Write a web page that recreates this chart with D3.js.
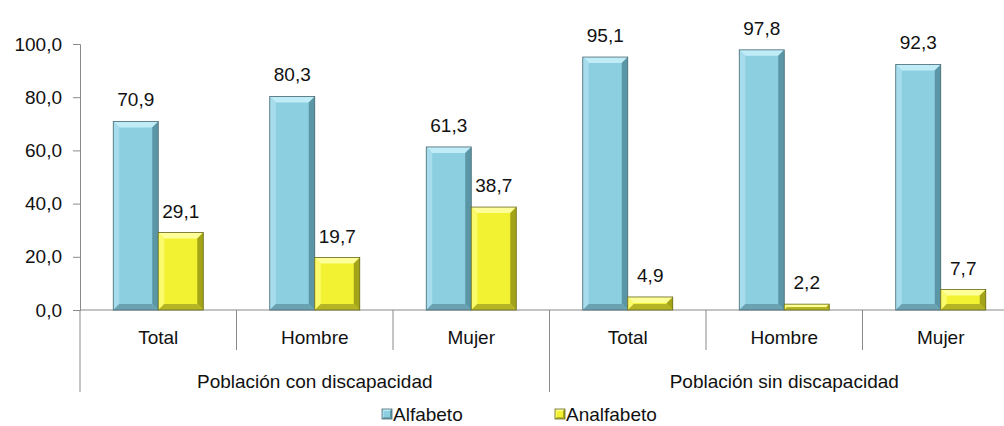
<!DOCTYPE html>
<html><head><meta charset="utf-8">
<script src="https://cdn.jsdelivr.net/npm/d3@7"></script>
<style>body{margin:0;background:#fff}svg{display:block}text{font-family:"Liberation Sans",Arial,sans-serif;fill:#111}</style>
</head><body><svg id="c" width="1004" height="426"></svg>
<script>
const groups = ["Población con discapacidad","Población sin discapacidad"];
const categories = ["Total","Hombre","Mujer","Total","Hombre","Mujer"];
const seriesNames = ["Alfabeto","Analfabeto"];
const alfabeto = [70.9,80.3,61.3,95.1,97.8,92.3];
const analfabeto = [29.1,19.7,38.7,4.9,2.2,7.7];
const yTicks = [0,20,40,60,80,100];

const FS = 19;
const svg = d3.select("#c");
const L = 80, R = 1019, T = 44, B = 310;
const x = d3.scaleBand().domain(d3.range(categories.length)).range([L,R]).paddingInner(0).paddingOuter(0);
const y = d3.scaleLinear().domain([0,100]).range([B,T]);
const fmt = v => d3.format(".1f")(v).replace(".",",");
const axisCol = "#8a8a8a";

// y axis
const ya = svg.append("g").attr("transform",`translate(${L},0)`)
  .call(d3.axisLeft(y).tickValues(yTicks).tickSize(7).tickPadding(11).tickFormat(fmt));
ya.select(".domain").attr("stroke",axisCol);
ya.selectAll(".tick line").attr("stroke",axisCol);
ya.selectAll(".tick text").attr("font-size",FS).attr("fill","#111").attr("font-family",'"Liberation Sans",Arial,sans-serif');

// baseline
svg.append("line").attr("x1",L).attr("x2",R).attr("y1",B).attr("y2",B).attr("stroke",axisCol);
// category separators
d3.range(categories.length+1).forEach(i=>{
  const xx = i===categories.length ? R : x(i);
  const long = (i%3===0);
  svg.append("line").attr("x1",xx).attr("x2",xx).attr("y1",B).attr("y2",long?392:350).attr("stroke",axisCol);
});
// category labels
svg.selectAll(".cat").data(categories).join("text")
  .attr("x",(d,i)=>x(i)+x.bandwidth()/2).attr("y",344).attr("text-anchor","middle").attr("font-size",FS).text(d=>d);
// group labels
svg.selectAll(".grp").data(groups).join("text")
  .attr("x",(d,i)=>(x(i*3)+ (i*3+3<categories.length? x(i*3+3):R))/2).attr("y",388).attr("text-anchor","middle").attr("font-size",FS).text(d=>d);

const palettes = [
  {base:"#8ccfe1", top:"#c0ecf7", left:"#a6dcec", right:"#5a96a6", bottom:"#6aa2b2", stroke:"#4a6a72"},
  {base:"#f2f232", top:"#ffff9a", left:"#fafa6a", right:"#a4a418", bottom:"#b4b424", stroke:"#666620"}
];
const bw = 45;
const inner = d3.scaleBand().domain([0,1]).range([0,bw*2]);
function bevelBar(g, x0, x1, y0, y1, p, bv){
  const b = Math.min(bv,(y1-y0)/2,(x1-x0)/2);
  g.append("rect").attr("x",x0).attr("y",y0).attr("width",x1-x0).attr("height",y1-y0).attr("fill",p.base);
  const poly = pts => g.append("polygon").attr("points",pts.map(q=>q.join(",")).join(" "));
  poly([[x0,y0],[x1,y0],[x1-b,y0+b],[x0+b,y0+b]]).attr("fill",p.top);
  poly([[x0,y0],[x0+b,y0+b],[x0+b,y1-b],[x0,y1]]).attr("fill",p.left);
  poly([[x1,y0],[x1,y1],[x1-b,y1-b],[x1-b,y0+b]]).attr("fill",p.right);
  poly([[x0,y1],[x0+b,y1-b],[x1-b,y1-b],[x1,y1]]).attr("fill",p.bottom);
  g.append("rect").attr("x",x0).attr("y",y0).attr("width",x1-x0).attr("height",y1-y0).attr("fill","none").attr("stroke",p.stroke).attr("stroke-width",0.8);
}
const series = [alfabeto, analfabeto];
series.forEach((vals,s)=>{
  const g = svg.append("g");
  vals.forEach((v,i)=>{
    const start = x(i) + (x.bandwidth()-bw*2)/2 + inner(s);
    bevelBar(g, start, start+bw, y(v), y(0), palettes[s], 6);
    svg.append("text").attr("x",start+bw/2).attr("y",y(v)-15).attr("text-anchor","middle").attr("font-size",FS).text(fmt(v));
  });
});

// legend
const lx = [382, 555];
seriesNames.forEach((n,s)=>{
  const g = svg.append("g");
  bevelBar(g, lx[s], lx[s]+10, 409, 419, palettes[s], 2);
  svg.append("text").attr("x",lx[s]+11).attr("y",421).attr("font-size",FS).text(n);
});
</script></body></html>
